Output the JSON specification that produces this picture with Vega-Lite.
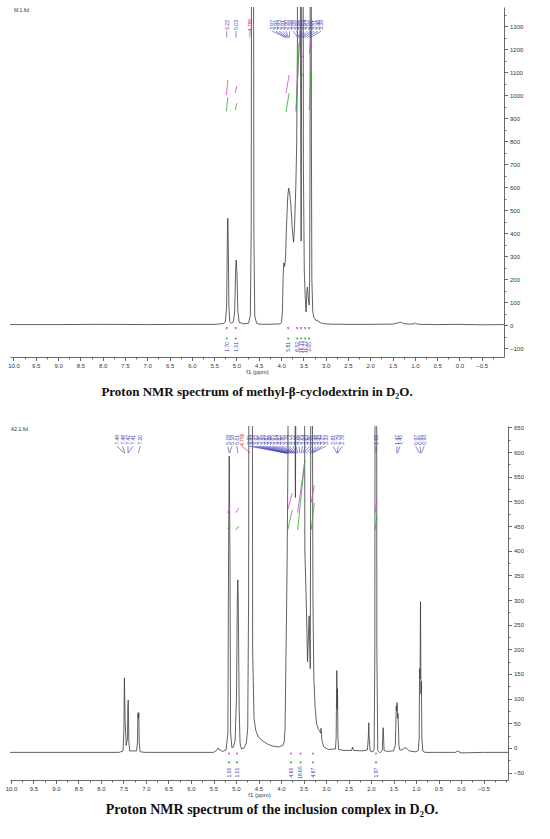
{
  "$schema": "https://vega.github.io/schema/vega-lite/v6.json",
  "background": "white",
  "padding": {"left": 5, "top": 7, "right": 0, "bottom": 0},
  "spacing": 25,
  "config": {
    "view": {"stroke": null},
    "font": "Liberation Sans",
    "axis": {
      "grid": false,
      "domainColor": "#444",
      "domainWidth": 0.8,
      "tickColor": "#444",
      "tickWidth": 0.8,
      "labelColor": "#333",
      "labelFont": "Liberation Sans",
      "labelFontSize": 6,
      "labelFlush": false,
      "labelOverlap": false,
      "labelPadding": 2,
      "titleFont": "Liberation Sans",
      "titleFontSize": 6,
      "titleFontWeight": "normal",
      "titleColor": "#333",
      "titlePadding": 0
    },
    "title": {"font": "Liberation Serif", "fontWeight": "bold", "color": "#111", "orient": "bottom", "anchor": "middle"}
  },
  "datasets": {
    "top": [
      {"ppm": -1.01, "i": 2}, {"ppm": -0.5, "i": 1}, {"ppm": 0.0, "i": 3}, {"ppm": 0.5, "i": 2}, {"ppm": 0.9, "i": 3},
      {"ppm": 0.96, "i": 5}, {"ppm": 0.99, "i": 9}, {"ppm": 1.02, "i": 5}, {"ppm": 1.1, "i": 4}, {"ppm": 1.25, "i": 6},
      {"ppm": 1.3, "i": 11}, {"ppm": 1.33, "i": 13}, {"ppm": 1.38, "i": 9}, {"ppm": 1.5, "i": 4}, {"ppm": 2.0, "i": 3},
      {"ppm": 2.5, "i": 3}, {"ppm": 2.9, "i": 4}, {"ppm": 3.05, "i": 6}, {"ppm": 3.12, "i": 10}, {"ppm": 3.17, "i": 16},
      {"ppm": 3.19, "i": 21}, {"ppm": 3.21, "i": 18}, {"ppm": 3.24, "i": 26}, {"ppm": 3.27, "i": 35}, {"ppm": 3.29, "i": 60},
      {"ppm": 3.31, "i": 200}, {"ppm": 3.32, "i": 800}, {"ppm": 3.33, "i": 3000}, {"ppm": 3.34, "i": 3000}, {"ppm": 3.35, "i": 800},
      {"ppm": 3.36, "i": 200}, {"ppm": 3.37, "i": 87}, {"ppm": 3.39, "i": 120}, {"ppm": 3.41, "i": 165}, {"ppm": 3.42, "i": 150},
      {"ppm": 3.43, "i": 100}, {"ppm": 3.44, "i": 57}, {"ppm": 3.46, "i": 130}, {"ppm": 3.48, "i": 239}, {"ppm": 3.5, "i": 700},
      {"ppm": 3.51, "i": 3000}, {"ppm": 3.53, "i": 3000}, {"ppm": 3.54, "i": 1200}, {"ppm": 3.55, "i": 365}, {"ppm": 3.565, "i": 1200},
      {"ppm": 3.58, "i": 3000}, {"ppm": 3.62, "i": 3000}, {"ppm": 3.635, "i": 1200}, {"ppm": 3.65, "i": 790}, {"ppm": 3.67, "i": 600},
      {"ppm": 3.7, "i": 420}, {"ppm": 3.72, "i": 360}, {"ppm": 3.75, "i": 420}, {"ppm": 3.78, "i": 520}, {"ppm": 3.81, "i": 580},
      {"ppm": 3.83, "i": 595}, {"ppm": 3.85, "i": 560}, {"ppm": 3.88, "i": 420}, {"ppm": 3.9, "i": 290}, {"ppm": 3.92, "i": 255},
      {"ppm": 3.94, "i": 270}, {"ppm": 3.955, "i": 200}, {"ppm": 3.97, "i": 60}, {"ppm": 3.99, "i": 12}, {"ppm": 4.02, "i": 5},
      {"ppm": 4.3, "i": 3}, {"ppm": 4.5, "i": 4}, {"ppm": 4.55, "i": 8}, {"ppm": 4.59, "i": 40}, {"ppm": 4.61, "i": 400},
      {"ppm": 4.625, "i": 3000}, {"ppm": 4.655, "i": 3000}, {"ppm": 4.67, "i": 400}, {"ppm": 4.69, "i": 40}, {"ppm": 4.73, "i": 8},
      {"ppm": 4.85, "i": 5}, {"ppm": 4.94, "i": 12}, {"ppm": 4.97, "i": 60}, {"ppm": 4.99, "i": 230}, {"ppm": 5.007, "i": 283},
      {"ppm": 5.02, "i": 230}, {"ppm": 5.04, "i": 60}, {"ppm": 5.07, "i": 14}, {"ppm": 5.11, "i": 8}, {"ppm": 5.15, "i": 14},
      {"ppm": 5.17, "i": 80}, {"ppm": 5.185, "i": 380}, {"ppm": 5.195, "i": 465}, {"ppm": 5.205, "i": 380}, {"ppm": 5.22, "i": 80},
      {"ppm": 5.25, "i": 14}, {"ppm": 5.3, "i": 6}, {"ppm": 5.5, "i": 3}, {"ppm": 6.0, "i": 3}, {"ppm": 7.0, "i": 2},
      {"ppm": 8.0, "i": 3}, {"ppm": 9.0, "i": 2}, {"ppm": 10.1, "i": 2}
    ],
    "bottom": [
      {"ppm": -1.05, "i": -9}, {"ppm": -0.5, "i": -9}, {"ppm": 0.0, "i": -10}, {"ppm": 0.08, "i": -6}, {"ppm": 0.12, "i": -9},
      {"ppm": 0.5, "i": -9}, {"ppm": 0.8, "i": -9}, {"ppm": 0.85, "i": -6}, {"ppm": 0.87, "i": 20}, {"ppm": 0.88, "i": 135},
      {"ppm": 0.89, "i": 110}, {"ppm": 0.9, "i": 297}, {"ppm": 0.91, "i": 140}, {"ppm": 0.92, "i": 161}, {"ppm": 0.93, "i": 20},
      {"ppm": 0.95, "i": -5}, {"ppm": 1.0, "i": -8}, {"ppm": 1.15, "i": -6}, {"ppm": 1.22, "i": 0}, {"ppm": 1.26, "i": 0},
      {"ppm": 1.3, "i": -4}, {"ppm": 1.36, "i": -4}, {"ppm": 1.38, "i": 5}, {"ppm": 1.39, "i": 40}, {"ppm": 1.4, "i": 70},
      {"ppm": 1.41, "i": 60}, {"ppm": 1.42, "i": 92}, {"ppm": 1.43, "i": 75}, {"ppm": 1.44, "i": 85}, {"ppm": 1.45, "i": 40},
      {"ppm": 1.46, "i": 5}, {"ppm": 1.5, "i": -6}, {"ppm": 1.65, "i": -7}, {"ppm": 1.71, "i": -5}, {"ppm": 1.72, "i": 20},
      {"ppm": 1.73, "i": 41}, {"ppm": 1.74, "i": 20}, {"ppm": 1.75, "i": -5}, {"ppm": 1.8, "i": -10}, {"ppm": 1.85, "i": -5},
      {"ppm": 1.87, "i": 200}, {"ppm": 1.885, "i": 2000}, {"ppm": 1.9, "i": 2000}, {"ppm": 1.915, "i": 200}, {"ppm": 1.93, "i": -3},
      {"ppm": 1.96, "i": -8}, {"ppm": 2.02, "i": -6}, {"ppm": 2.04, "i": 20}, {"ppm": 2.05, "i": 51}, {"ppm": 2.06, "i": 20},
      {"ppm": 2.08, "i": -4}, {"ppm": 2.2, "i": -6}, {"ppm": 2.39, "i": -5}, {"ppm": 2.41, "i": 2}, {"ppm": 2.43, "i": -5},
      {"ppm": 2.6, "i": -5}, {"ppm": 2.72, "i": -3}, {"ppm": 2.735, "i": 20}, {"ppm": 2.745, "i": 120}, {"ppm": 2.75, "i": 80},
      {"ppm": 2.76, "i": 157}, {"ppm": 2.775, "i": 20}, {"ppm": 2.79, "i": -2}, {"ppm": 2.95, "i": -3}, {"ppm": 3.05, "i": 2},
      {"ppm": 3.09, "i": 15}, {"ppm": 3.11, "i": 40}, {"ppm": 3.12, "i": 30}, {"ppm": 3.14, "i": 34}, {"ppm": 3.17, "i": 38},
      {"ppm": 3.21, "i": 50}, {"ppm": 3.24, "i": 80}, {"ppm": 3.27, "i": 140}, {"ppm": 3.29, "i": 300}, {"ppm": 3.31, "i": 1000},
      {"ppm": 3.32, "i": 2000}, {"ppm": 3.34, "i": 600}, {"ppm": 3.35, "i": 161}, {"ppm": 3.375, "i": 268}, {"ppm": 3.39, "i": 230},
      {"ppm": 3.41, "i": 175}, {"ppm": 3.44, "i": 300}, {"ppm": 3.47, "i": 400}, {"ppm": 3.48, "i": 1000}, {"ppm": 3.5, "i": 2000},
      {"ppm": 3.64, "i": 2000}, {"ppm": 3.66, "i": 900}, {"ppm": 3.68, "i": 508}, {"ppm": 3.7, "i": 900}, {"ppm": 3.72, "i": 2000},
      {"ppm": 3.83, "i": 2000}, {"ppm": 3.845, "i": 600}, {"ppm": 3.86, "i": 423}, {"ppm": 3.875, "i": 288}, {"ppm": 3.89, "i": 187},
      {"ppm": 3.91, "i": 40}, {"ppm": 3.93, "i": 12}, {"ppm": 3.96, "i": 5}, {"ppm": 4.05, "i": 2}, {"ppm": 4.2, "i": 4},
      {"ppm": 4.3, "i": 8}, {"ppm": 4.4, "i": 14}, {"ppm": 4.5, "i": 22}, {"ppm": 4.56, "i": 35}, {"ppm": 4.6, "i": 60},
      {"ppm": 4.63, "i": 200}, {"ppm": 4.65, "i": 2000}, {"ppm": 4.7, "i": 2000}, {"ppm": 4.72, "i": 300}, {"ppm": 4.74, "i": 40},
      {"ppm": 4.77, "i": 10}, {"ppm": 4.82, "i": 0}, {"ppm": 4.88, "i": -2}, {"ppm": 4.91, "i": 10}, {"ppm": 4.93, "i": 80},
      {"ppm": 4.95, "i": 300}, {"ppm": 4.96, "i": 341}, {"ppm": 4.97, "i": 310}, {"ppm": 4.99, "i": 100}, {"ppm": 5.02, "i": 15},
      {"ppm": 5.06, "i": 2}, {"ppm": 5.09, "i": 0}, {"ppm": 5.12, "i": 30}, {"ppm": 5.135, "i": 400}, {"ppm": 5.15, "i": 592},
      {"ppm": 5.165, "i": 400}, {"ppm": 5.18, "i": 30}, {"ppm": 5.22, "i": -4}, {"ppm": 5.3, "i": -7}, {"ppm": 5.38, "i": -3},
      {"ppm": 5.4, "i": 0}, {"ppm": 5.43, "i": -5}, {"ppm": 5.5, "i": -9}, {"ppm": 6.0, "i": -9}, {"ppm": 7.0, "i": -9},
      {"ppm": 7.13, "i": -8}, {"ppm": 7.15, "i": 10}, {"ppm": 7.16, "i": 72}, {"ppm": 7.17, "i": 60}, {"ppm": 7.18, "i": 70},
      {"ppm": 7.19, "i": 10}, {"ppm": 7.21, "i": -6}, {"ppm": 7.36, "i": -6}, {"ppm": 7.38, "i": 10}, {"ppm": 7.395, "i": 97},
      {"ppm": 7.405, "i": 80}, {"ppm": 7.41, "i": 20}, {"ppm": 7.44, "i": 5}, {"ppm": 7.465, "i": 60}, {"ppm": 7.48, "i": 142},
      {"ppm": 7.49, "i": 40}, {"ppm": 7.51, "i": -6}, {"ppm": 7.6, "i": -9}, {"ppm": 8.0, "i": -9}, {"ppm": 9.0, "i": -9},
      {"ppm": 10.05, "i": -9}
    ],
    "tags": [
      {"panel": "top", "t": "M.1.fid", "ppm": 9.99, "i": 1368},
      {"panel": "bottom", "t": "A2.1.fid", "ppm": 10.0, "i": 646}
    ],
    "peaksTop": [
      {"ppm": 5.22, "p2": 5.22, "t": "5.22", "c": "b"}, {"ppm": 5.01, "p2": 5.01, "t": "5.03", "c": "b"}, {"ppm": 4.7, "p2": 4.7, "t": "4.790", "c": "r"},
      {"ppm": 4.2, "p2": 3.9, "t": "3.97", "c": "b"}, {"ppm": 4.12, "p2": 3.88, "t": "3.95", "c": "b"}, {"ppm": 4.04, "p2": 3.86, "t": "3.93", "c": "b"},
      {"ppm": 3.96, "p2": 3.84, "t": "3.91", "c": "b"}, {"ppm": 3.89, "p2": 3.83, "t": "3.90", "c": "b"}, {"ppm": 3.81, "p2": 3.81, "t": "3.88", "c": "b"},
      {"ppm": 3.73, "p2": 3.62, "t": "3.86", "c": "b"}, {"ppm": 3.65, "p2": 3.6, "t": "3.85", "c": "b"}, {"ppm": 3.57, "p2": 3.58, "t": "3.66", "c": "b"},
      {"ppm": 3.49, "p2": 3.56, "t": "3.64", "c": "b"}, {"ppm": 3.42, "p2": 3.53, "t": "3.62", "c": "b"}, {"ppm": 3.34, "p2": 3.52, "t": "3.60", "c": "b"},
      {"ppm": 3.26, "p2": 3.48, "t": "3.51", "c": "b"}, {"ppm": 3.18, "p2": 3.41, "t": "3.46", "c": "b"}, {"ppm": 3.105, "p2": 3.34, "t": "3.38", "c": "b"}
    ],
    "peaksBottom": [
      {"ppm": 7.645, "p2": 7.48, "t": "7.49", "c": "b"}, {"ppm": 7.52, "p2": 7.47, "t": "7.48", "c": "b"}, {"ppm": 7.4, "p2": 7.4, "t": "7.42", "c": "b"},
      {"ppm": 7.29, "p2": 7.395, "t": "7.41", "c": "b"}, {"ppm": 7.13, "p2": 7.17, "t": "7.20", "c": "b"},
      {"ppm": 5.18, "p2": 5.15, "t": "5.19", "c": "b"}, {"ppm": 5.09, "p2": 5.14, "t": "5.18", "c": "b"}, {"ppm": 4.98, "p2": 4.96, "t": "5.01", "c": "b"},
      {"ppm": 4.87, "p2": 4.68, "t": "4.790", "c": "r"},
      {"ppm": 4.71, "p2": 3.89, "t": "3.95", "c": "b"}, {"ppm": 4.636, "p2": 3.875, "t": "3.93", "c": "b"}, {"ppm": 4.56, "p2": 3.86, "t": "3.92", "c": "b"},
      {"ppm": 4.49, "p2": 3.85, "t": "3.90", "c": "b"}, {"ppm": 4.41, "p2": 3.84, "t": "3.89", "c": "b"}, {"ppm": 4.34, "p2": 3.83, "t": "3.87", "c": "b"},
      {"ppm": 4.26, "p2": 3.8, "t": "3.86", "c": "b"}, {"ppm": 4.19, "p2": 3.76, "t": "3.85", "c": "b"}, {"ppm": 4.12, "p2": 3.73, "t": "3.84", "c": "b"},
      {"ppm": 4.04, "p2": 3.72, "t": "3.82", "c": "b"}, {"ppm": 3.97, "p2": 3.7, "t": "3.80", "c": "b"}, {"ppm": 3.89, "p2": 3.68, "t": "3.78", "c": "b"},
      {"ppm": 3.82, "p2": 3.66, "t": "3.73", "c": "b"}, {"ppm": 3.74, "p2": 3.64, "t": "3.72", "c": "b"}, {"ppm": 3.67, "p2": 3.62, "t": "3.70", "c": "b"},
      {"ppm": 3.6, "p2": 3.58, "t": "3.66", "c": "b"}, {"ppm": 3.52, "p2": 3.55, "t": "3.64", "c": "b"}, {"ppm": 3.45, "p2": 3.52, "t": "3.63", "c": "b"},
      {"ppm": 3.37, "p2": 3.49, "t": "3.60", "c": "b"}, {"ppm": 3.3, "p2": 3.44, "t": "3.55", "c": "b"}, {"ppm": 3.22, "p2": 3.375, "t": "3.48", "c": "b"},
      {"ppm": 3.15, "p2": 3.35, "t": "3.43", "c": "b"}, {"ppm": 3.08, "p2": 3.32, "t": "3.37", "c": "b"}, {"ppm": 3.0, "p2": 3.31, "t": "3.33", "c": "b"},
      {"ppm": 2.84, "p2": 2.76, "t": "2.81", "c": "b"}, {"ppm": 2.73, "p2": 2.75, "t": "2.79", "c": "b"}, {"ppm": 2.64, "p2": 2.745, "t": "2.78", "c": "b"},
      {"ppm": 1.89, "p2": 1.89, "t": "1.93", "c": "b"}, {"ppm": 1.42, "p2": 1.43, "t": "1.47", "c": "b"}, {"ppm": 1.355, "p2": 1.41, "t": "1.45", "c": "b"},
      {"ppm": 1.01, "p2": 0.92, "t": "0.97", "c": "b"}, {"ppm": 0.91, "p2": 0.9, "t": "0.95", "c": "b"}, {"ppm": 0.82, "p2": 0.88, "t": "0.93", "c": "b"}
    ],
    "intTop": [
      {"ppm": 5.22, "t": "1.70"}, {"ppm": 5.017, "t": "1.01"}, {"ppm": 3.84, "t": "5.81"}, {"ppm": 3.64, "t": "6.52"},
      {"ppm": 3.55, "t": "16.15"}, {"ppm": 3.46, "t": "10.22"}, {"ppm": 3.37, "t": "3.05"}
    ],
    "intBottom": [
      {"ppm": 5.155, "t": "1.00"}, {"ppm": 4.978, "t": "1.01"}, {"ppm": 3.78, "t": "4.65"}, {"ppm": 3.567, "t": "16.65"},
      {"ppm": 3.29, "t": "4.67"}, {"ppm": 1.889, "t": "1.97"}
    ],
    "curvesTop": [
      {"p1": 5.226, "p2": 5.195, "v1": 1000, "v2": 1065, "c": "m"}, {"p1": 5.226, "p2": 5.195, "v1": 930, "v2": 991, "c": "g"},
      {"p1": 5.026, "p2": 4.995, "v1": 1009, "v2": 1039, "c": "m"}, {"p1": 5.026, "p2": 4.995, "v1": 935, "v2": 965, "c": "g"},
      {"p1": 3.89, "p2": 3.82, "v1": 1009, "v2": 1087, "c": "m"}, {"p1": 3.89, "p2": 3.82, "v1": 926, "v2": 1009, "c": "g"},
      {"p1": 3.665, "p2": 3.575, "v1": 935, "v2": 1283, "c": "m"}, {"p1": 3.665, "p2": 3.595, "v1": 926, "v2": 1230, "c": "g"},
      {"p1": 3.55, "p2": 3.49, "v1": 1160, "v2": 1174, "c": "m"}, {"p1": 3.55, "p2": 3.49, "v1": 1078, "v2": 1096, "c": "g"},
      {"p1": 3.37, "p2": 3.33, "v1": 1183, "v2": 1239, "c": "m"}, {"p1": 3.37, "p2": 3.33, "v1": 935, "v2": 1109, "c": "g"}
    ],
    "curvesBottom": [
      {"p1": 5.185, "p2": 5.133, "v1": 477, "v2": 489, "c": "m"}, {"p1": 5.185, "p2": 5.133, "v1": 444, "v2": 454, "c": "g"},
      {"p1": 5.006, "p2": 4.933, "v1": 477, "v2": 487, "c": "m"}, {"p1": 5.006, "p2": 4.933, "v1": 442, "v2": 450, "c": "g"},
      {"p1": 3.85, "p2": 3.75, "v1": 483, "v2": 517, "c": "m"}, {"p1": 3.85, "p2": 3.75, "v1": 442, "v2": 483, "c": "g"},
      {"p1": 3.63, "p2": 3.47, "v1": 477, "v2": 584, "c": "m"}, {"p1": 3.63, "p2": 3.47, "v1": 442, "v2": 584, "c": "g"},
      {"p1": 3.33, "p2": 3.26, "v1": 497, "v2": 533, "c": "m"}, {"p1": 3.33, "p2": 3.26, "v1": 442, "v2": 497, "c": "g"},
      {"p1": 1.91, "p2": 1.87, "v1": 477, "v2": 503, "c": "m"}, {"p1": 1.91, "p2": 1.87, "v1": 442, "v2": 469, "c": "g"}
    ]
  },
  "vconcat": [
    {
      "width": 494,
      "height": 350,
      "title": {"text": "Proton NMR spectrum of methyl-β-cyclodextrin in D₂O.", "fontSize": 13, "offset": 11},
      "resolve": {"axis": {"x": "independent", "y": "independent"}},
      "layer": [
        {
          "data": {"name": "top"},
          "mark": {"type": "line", "color": "#3a3a3a", "strokeWidth": 0.8, "clip": true},
          "encoding": {
            "x": {"field": "ppm", "type": "quantitative",
              "scale": {"domain": [10.078, -0.998], "nice": false, "zero": false},
              "axis": {"orient": "bottom", "title": "f1 (ppm)", "tickSize": 3.5, "format": ".1f",
                "values": [10, 9, 8, 7, 6, 5, 4, 3, 2, 1, 0]}
            },
            "y": {"field": "i", "type": "quantitative",
              "scale": {"domain": [-139, 1383], "nice": false, "zero": false},
              "axis": {"orient": "right", "title": null, "tickSize": 3.5, "format": "d",
                "values": [-100, 100, 300, 500, 700, 900, 1100, 1300]}
            }
          }
        },
        {
          "data": {"name": "tags"},
          "transform": [{"filter": "datum.panel === 'top'"}],
          "mark": {"type": "text", "fontSize": 5, "align": "left", "baseline": "middle", "color": "#333"},
          "encoding": {
            "x": {"field": "ppm", "type": "quantitative",
              "axis": {"orient": "bottom", "title": null, "domain": false, "tickSize": 3.5, "format": ".1f",
                "values": [9.5, 8.5, 7.5, 6.5, 5.5, 4.5, 3.5, 2.5, 1.5, 0.5, -0.5]}},
            "y": {"field": "i", "type": "quantitative",
              "axis": {"orient": "right", "title": null, "domain": false, "tickSize": 3.5, "format": "d",
                "values": [0, 200, 400, 600, 800, 1000, 1200]}},
            "text": {"field": "t"}
          }
        },
        {
          "data": {"name": "curvesTop"},
          "mark": {"type": "rule", "strokeWidth": 0.8, "clip": true},
          "encoding": {
            "x": {"field": "p1", "type": "quantitative",
              "axis": {"orient": "bottom", "title": null, "domain": false, "labels": false, "tickSize": 2,
                "values": [9.75, 9.25, 8.75, 8.25, 7.75, 7.25, 6.75, 6.25, 5.75, 5.25, 4.75, 4.25, 3.75, 3.25, 2.75, 2.25, 1.75, 1.25, 0.75, 0.25, -0.25, -0.75]}},
            "x2": {"field": "p2"},
            "y": {"field": "v1", "type": "quantitative",
              "axis": {"orient": "right", "title": null, "domain": false, "labels": false, "tickSize": 2,
                "values": [-50, 50, 150, 250, 350, 450, 550, 650, 750, 850, 950, 1050, 1150, 1250, 1350]}},
            "y2": {"field": "v2"},
            "color": {"condition": {"test": "datum.c === 'm'", "value": "#cc44cc"}, "value": "#33aa33"}
          }
        },
        {
          "data": {"name": "peaksTop"},
          "mark": {"type": "rule", "strokeWidth": 0.6},
          "encoding": {
            "x": {"field": "ppm", "type": "quantitative", "axis": null}, "x2": {"field": "p2"},
            "y": {"datum": 1278, "axis": null}, "y2": {"datum": 1250},
            "color": {"condition": {"test": "datum.c === 'r'", "value": "#e02020"}, "value": "#3a3ab0"}
          }
        },
        {
          "data": {"name": "peaksTop"},
          "mark": {"type": "text", "fontSize": 5, "angle": 270, "align": "center", "baseline": "middle"},
          "encoding": {
            "x": {"field": "ppm", "type": "quantitative", "axis": null},
            "y": {"datum": 1305, "axis": null},
            "text": {"field": "t"},
            "color": {"condition": {"test": "datum.c === 'r'", "value": "#e02020"}, "value": "#3a3ab0"}
          }
        },
        {
          "data": {"name": "intTop"},
          "mark": {"type": "point", "shape": "triangle-down", "filled": true, "size": 7, "color": "#cc44cc", "opacity": 1},
          "encoding": {"x": {"field": "ppm", "type": "quantitative", "axis": null}, "y": {"datum": -15, "axis": null}}
        },
        {
          "data": {"name": "intTop"},
          "mark": {"type": "point", "shape": "triangle-down", "filled": true, "size": 7, "color": "#33aa33", "opacity": 1},
          "encoding": {"x": {"field": "ppm", "type": "quantitative", "axis": null}, "y": {"datum": -60, "axis": null}}
        },
        {
          "data": {"name": "intTop"},
          "mark": {"type": "text", "fontSize": 5, "angle": 270, "align": "center", "baseline": "middle", "color": "#3a3ab0"},
          "encoding": {"x": {"field": "ppm", "type": "quantitative", "axis": null}, "y": {"datum": -95, "axis": null}, "text": {"field": "t"}}
        }
      ]
    },
    {
      "width": 498,
      "height": 354,
      "title": {"text": "Proton NMR spectrum of the inclusion complex in D₂O.", "fontSize": 14, "offset": 5, "dx": 13},
      "resolve": {"axis": {"x": "independent", "y": "independent"}},
      "layer": [
        {
          "data": {"name": "bottom"},
          "mark": {"type": "line", "color": "#3a3a3a", "strokeWidth": 0.8, "clip": true},
          "encoding": {
            "x": {"field": "ppm", "type": "quantitative",
              "scale": {"domain": [10.022, -1.044], "nice": false, "zero": false},
              "axis": {"orient": "bottom", "title": "f1 (ppm)", "tickSize": 3.5, "format": ".1f",
                "values": [10, 9, 8, 7, 6, 5, 4, 3, 2, 1, 0]}
            },
            "y": {"field": "i", "type": "quantitative",
              "scale": {"domain": [-65, 653], "nice": false, "zero": false},
              "axis": {"orient": "right", "title": null, "tickSize": 3.5, "format": "d",
                "values": [-50, 50, 150, 250, 350, 450, 550, 650]}
            }
          }
        },
        {
          "data": {"name": "tags"},
          "transform": [{"filter": "datum.panel === 'bottom'"}],
          "mark": {"type": "text", "fontSize": 5, "align": "left", "baseline": "middle", "color": "#333"},
          "encoding": {
            "x": {"field": "ppm", "type": "quantitative",
              "axis": {"orient": "bottom", "title": null, "domain": false, "tickSize": 3.5, "format": ".1f",
                "values": [9.5, 8.5, 7.5, 6.5, 5.5, 4.5, 3.5, 2.5, 1.5, 0.5, -0.5]}},
            "y": {"field": "i", "type": "quantitative",
              "axis": {"orient": "right", "title": null, "domain": false, "tickSize": 3.5, "format": "d",
                "values": [0, 100, 200, 300, 400, 500, 600]}},
            "text": {"field": "t"}
          }
        },
        {
          "data": {"name": "curvesBottom"},
          "mark": {"type": "rule", "strokeWidth": 0.8, "clip": true},
          "encoding": {
            "x": {"field": "p1", "type": "quantitative",
              "axis": {"orient": "bottom", "title": null, "domain": false, "labels": false, "tickSize": 2,
                "values": [9.75, 9.25, 8.75, 8.25, 7.75, 7.25, 6.75, 6.25, 5.75, 5.25, 4.75, 4.25, 3.75, 3.25, 2.75, 2.25, 1.75, 1.25, 0.75, 0.25, -0.25, -0.75, -1]}},
            "x2": {"field": "p2"},
            "y": {"field": "v1", "type": "quantitative",
              "axis": {"orient": "right", "title": null, "domain": false, "labels": false, "tickSize": 2,
                "values": [-25, 25, 75, 125, 175, 225, 275, 325, 375, 425, 475, 525, 575, 625]}},
            "y2": {"field": "v2"},
            "color": {"condition": {"test": "datum.c === 'm'", "value": "#cc44cc"}, "value": "#33aa33"}
          }
        },
        {
          "data": {"name": "peaksBottom"},
          "mark": {"type": "rule", "strokeWidth": 0.6},
          "encoding": {
            "x": {"field": "ppm", "type": "quantitative", "axis": null}, "x2": {"field": "p2"},
            "y": {"datum": 612, "axis": null}, "y2": {"datum": 598},
            "color": {"condition": {"test": "datum.c === 'r'", "value": "#e02020"}, "value": "#3a3ab0"}
          }
        },
        {
          "data": {"name": "peaksBottom"},
          "mark": {"type": "text", "fontSize": 5, "angle": 270, "align": "center", "baseline": "middle"},
          "encoding": {
            "x": {"field": "ppm", "type": "quantitative", "axis": null},
            "y": {"datum": 625, "axis": null},
            "text": {"field": "t"},
            "color": {"condition": {"test": "datum.c === 'r'", "value": "#e02020"}, "value": "#3a3ab0"}
          }
        },
        {
          "data": {"name": "intBottom"},
          "mark": {"type": "point", "shape": "triangle-down", "filled": true, "size": 7, "color": "#cc44cc", "opacity": 1},
          "encoding": {"x": {"field": "ppm", "type": "quantitative", "axis": null}, "y": {"datum": -12, "axis": null}}
        },
        {
          "data": {"name": "intBottom"},
          "mark": {"type": "point", "shape": "triangle-down", "filled": true, "size": 7, "color": "#33aa33", "opacity": 1},
          "encoding": {"x": {"field": "ppm", "type": "quantitative", "axis": null}, "y": {"datum": -30, "axis": null}}
        },
        {
          "data": {"name": "intBottom"},
          "mark": {"type": "text", "fontSize": 5, "angle": 270, "align": "center", "baseline": "middle", "color": "#3a3ab0"},
          "encoding": {"x": {"field": "ppm", "type": "quantitative", "axis": null}, "y": {"datum": -50, "axis": null}, "text": {"field": "t"}}
        }
      ]
    }
  ]
}
